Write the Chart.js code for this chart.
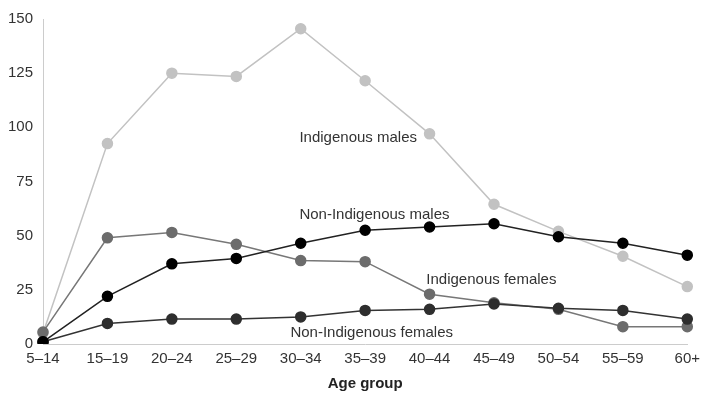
<!DOCTYPE html>
<html>
<head>
<meta charset="utf-8">
<script src="https://cdn.jsdelivr.net/npm/chart.js@4"></script>
<style>
  html, body { margin: 0; padding: 0; background: #fff; }
  #wrap { width: 701px; height: 393px; }
</style>
</head>
<body>
<div id="wrap"><canvas id="chart" width="701" height="393"></canvas></div>
<script>
// Age groups along the x axis
const ageGroups = ['5–14', '15–19', '20–24', '25–29', '30–34', '35–39', '40–44', '45–49', '50–54', '55–59', '60+'];
const yTicks = [0, 25, 50, 75, 100, 125, 150];

// Series values
const indigenousMales = [5, 92.5, 125, 123.5, 145.5, 121.5, 97, 64.5, 52, 40.5, 26.5];
const indigenousFemales = [5.5, 49, 51.5, 46, 38.5, 38, 23, 19, 16, 8, 8];
const nonIndigenousMales = [1, 22, 37, 39.5, 46.5, 52.5, 54, 55.5, 49.5, 46.5, 41];
const nonIndigenousFemales = [1, 9.5, 11.5, 11.5, 12.5, 15.5, 16, 18.5, 16.5, 15.5, 11.5];

// Series name labels, anchored in data coordinates (category index, value)
const seriesLabels = [
    { text: 'Indigenous males', at: 3.98, value: 95 },
    { text: 'Non-Indigenous males', at: 3.98, value: 59.5 },
    { text: 'Indigenous females', at: 5.95, value: 29.5 },
    { text: 'Non-Indigenous females', at: 3.84, value: 5 }
];

const FONT = '"Liberation Sans", Arial, sans-serif';

const labelPlugin = {
    id: 'seriesLabels',
    afterDatasetsDraw(chart) {
        const { ctx, scales } = chart;
        ctx.save();
        ctx.font = '15px ' + FONT;
        ctx.fillStyle = '#333';
        ctx.textAlign = 'left';
        ctx.textBaseline = 'middle';
        seriesLabels.forEach(l => {
            ctx.fillText(l.text, scales.x.getPixelForValue(l.at), scales.y.getPixelForValue(l.value));
        });
        ctx.restore();
    }
};

function series(label, data, line, point, order) {
    return {
        label, data, order,
        borderColor: line,
        backgroundColor: point,
        pointBackgroundColor: point,
        pointBorderColor: point,
        pointRadius: 5,
        pointHoverRadius: 5,
        borderWidth: 1.5,
        tension: 0
    };
}

new Chart(document.getElementById('chart'), {
    type: 'line',
    data: {
        labels: ageGroups,
        datasets: [
            series('Indigenous males', indigenousMales, '#c2c2c2', '#c2c2c2', 4),
            series('Indigenous females', indigenousFemales, '#777', '#6c6c6c', 3),
            series('Non-Indigenous females', nonIndigenousFemales, '#333', '#2e2e2e', 2),
            series('Non-Indigenous males', nonIndigenousMales, '#222', '#000', 1)
        ]
    },
    options: {
        responsive: false,
        animation: false,
        layout: { padding: { top: 14, right: 13, left: 0, bottom: 0 } },
        plugins: { legend: { display: false }, tooltip: { enabled: false } },
        scales: {
            x: {
                offset: false,
                grid: { display: false, drawTicks: true, tickLength: 5, color: '#bbb' },
                border: { color: '#ccc', width: 1 },
                ticks: { color: '#333', font: { size: 15, family: FONT }, padding: 1, maxRotation: 0, autoSkip: false },
                title: { display: true, text: 'Age group', color: '#222', font: { size: 15, weight: 'bold', family: FONT }, padding: { top: 2, bottom: 0 } },
                afterFit(scale) { scale.height = 49; }
            },
            y: {
                min: 0, max: 150,
                afterBuildTicks(scale) { scale.ticks = yTicks.map(v => ({ value: v })); },
                grid: { display: false, drawTicks: false },
                border: { color: '#ccc', width: 1 },
                ticks: { color: '#333', font: { size: 15, family: FONT }, padding: 10 },
                afterFit(scale) { scale.width = 43; }
            }
        }
    },
    plugins: [labelPlugin]
});
</script>
</body>
</html>
